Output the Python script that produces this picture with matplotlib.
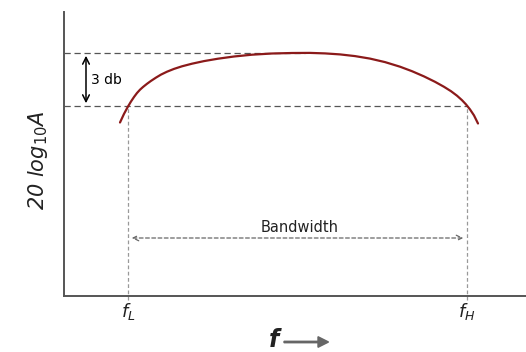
import matplotlib.pyplot as plt
from matplotlib.patches import FancyArrow

# Response curve, sampled along the arch (x = frequency position, y = gain level)
curve_x = [120, 124, 128, 131, 134, 137, 140, 143, 147, 151, 156, 161, 167, 174, 182,
           192, 204, 218, 234, 252, 272, 292, 310, 325, 340, 355, 370, 385, 400, 412,
           424, 435, 444, 451, 457, 462, 466, 470, 474, 478]
curve_y = [229.5, 238.1, 245.5, 250.5, 255.0, 259.0, 262.3, 265.0, 268.2, 271.1, 274.4,
           277.4, 280.3, 283.1, 285.7, 288.3, 290.9, 293.3, 295.5, 297.3, 298.5, 299.0,
           299.1, 298.6, 297.6, 295.9, 293.4, 289.9, 285.3, 280.8, 275.6, 270.2, 265.2,
           260.8, 256.3, 251.8, 247.6, 242.6, 236.6, 228.5]

f_low, f_high = 128, 467
level_peak, level_3db = 299, 246
bandwidth_level = 114

fig = plt.figure(figsize=(5.26, 3.52), dpi=100)
ax = fig.add_axes([64 / 526, 56 / 352, 462 / 526, 284 / 352])
ax.set_xlim(64, 526)
ax.set_ylim(56, 340)

for side in ['top', 'right']:
    ax.spines[side].set_visible(False)
for side in ['left', 'bottom']:
    ax.spines[side].set_color('#555555')
    ax.spines[side].set_linewidth(1.4)
ax.set_xticks([])
ax.set_yticks([])

# reference levels
ax.plot([64, 305], [level_peak, level_peak], color='#555555', lw=0.9, ls=(0, (5, 3)))
ax.plot([64, f_high], [level_3db, level_3db], color='#555555', lw=0.9, ls=(0, (5, 3)))
for fx in [f_low, f_high]:
    ax.plot([fx, fx], [52, level_3db], color='#999999', lw=0.9, ls=(0, (3, 2)), clip_on=False)

ax.plot(curve_x, curve_y, color='#8b1a1a', lw=1.6, solid_capstyle='round',
        solid_joinstyle='round')

# 3 db marker
ax.annotate('', xy=(86, level_peak), xytext=(86, level_3db),
            arrowprops=dict(arrowstyle='<->', color='black', lw=1.1, mutation_scale=12))
ax.text(91, (level_peak + level_3db) / 2 - 1, '3 db', fontsize=10, va='center', ha='left')

# bandwidth marker
ax.annotate('', xy=(f_low + 1, bandwidth_level), xytext=(f_high - 1, bandwidth_level),
            arrowprops=dict(arrowstyle='<->', color='#666666', lw=0.9, ls=(0, (3, 2)),
                            mutation_scale=10))
ax.text(300, bandwidth_level + 3, 'Bandwidth', fontsize=10.5, ha='center', va='bottom',
        color='#222222')

# axis labels
ax.text(f_low, 40, r'$f_L$', fontsize=13, ha='center', va='center', color='#222222')
ax.text(f_high, 40, r'$f_H$', fontsize=13, ha='center', va='center', color='#222222')
fig.text(274 / 526, 1 - 340 / 352, 'f', fontsize=17, style='italic', fontweight='bold',
         ha='center', va='center', color='#222222')
fig.patches.append(FancyArrow(
    284 / 526, 1 - 342 / 352, 34 / 526, 0, width=0.004, head_width=0.03,
    head_length=0.02, color='#666666', transform=fig.transFigure, figure=fig))
fig.text(38 / 526, 1 - 160 / 352, r'20 log$_{10}$A', fontsize=15, style='italic',
         rotation=90, ha='center', va='center', color='#222222')

plt.savefig('out.png', dpi=100)
plt.close()
